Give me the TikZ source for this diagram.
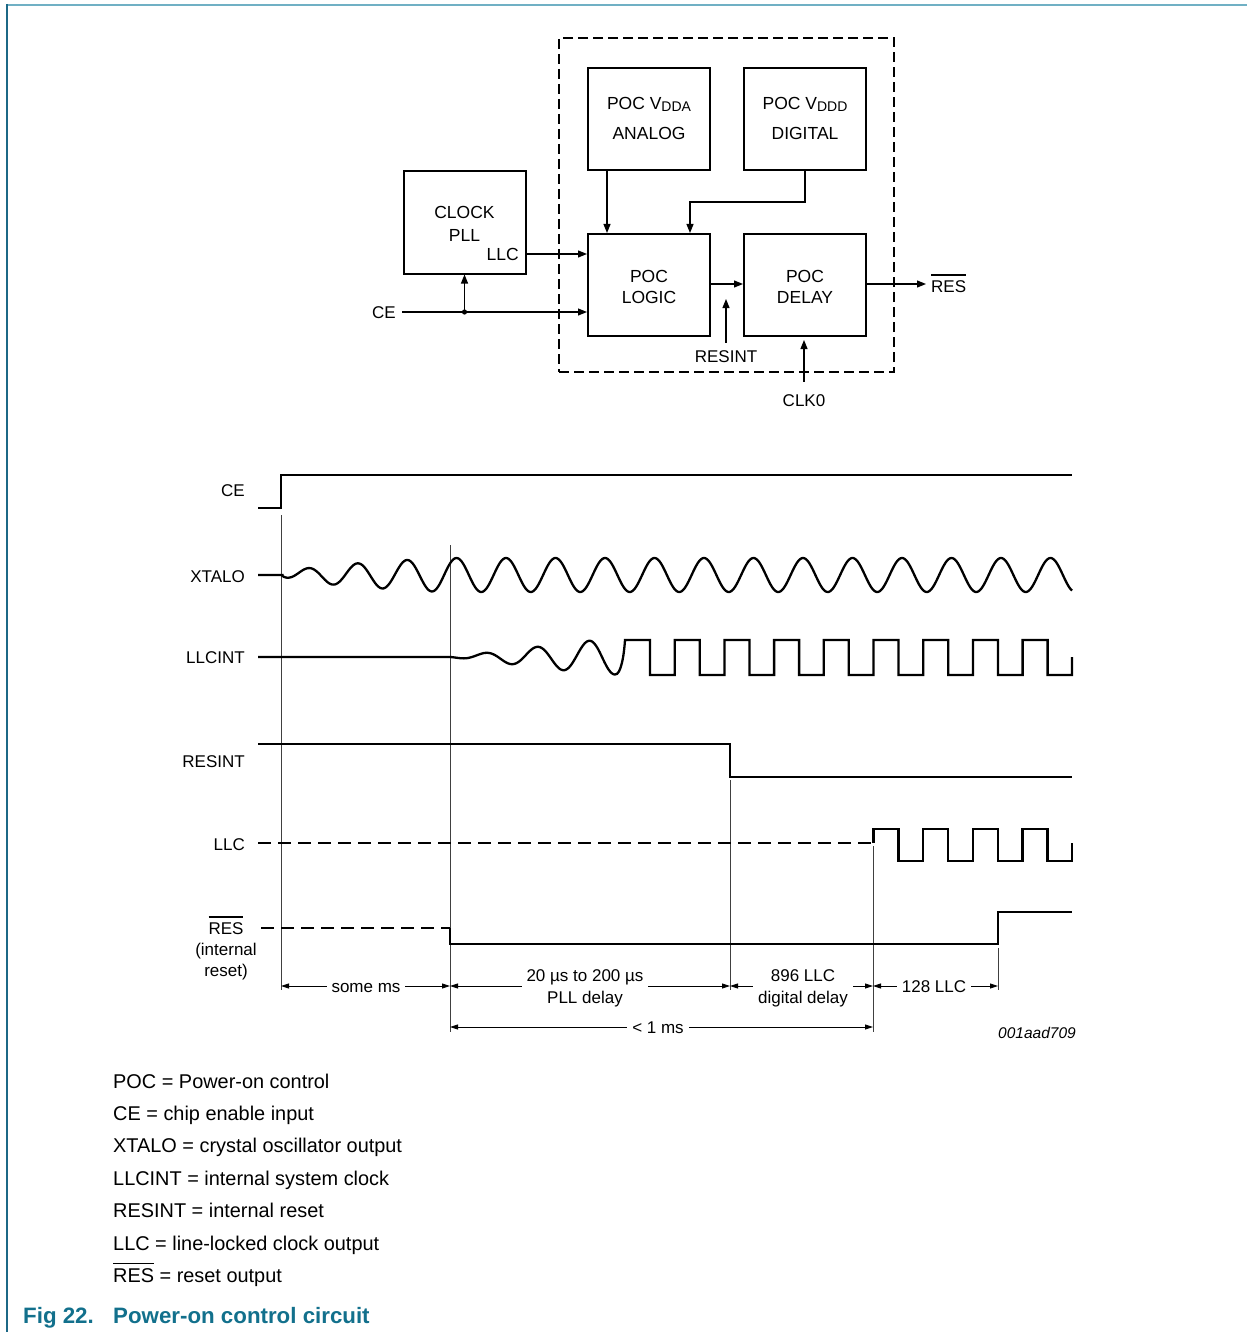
\documentclass[tikz,border=0pt]{standalone}
\usepackage{fontspec}
\setmainfont{Liberation Sans}
\usetikzlibrary{arrows.meta}
\definecolor{capteal}{RGB}{18,112,140}
\definecolor{toplinec}{RGB}{112,176,196}
\definecolor{leftlinec}{RGB}{28,104,134}
\newcommand{\fsz}[2]{\fontsize{#1}{#2}\selectfont}
\newcommand{\ovbar}[1]{\leavevmode\vbox{\hrule height 1.2pt\kern 4.5pt\hbox{#1}}}
\begin{document}
\begin{tikzpicture}[x=1pt,y=-1pt,
  blk/.style={draw, line width=2pt, minimum width=122pt, minimum height=102pt, inner sep=0pt},
  dashbox/.style={draw, line width=2.2pt, dash pattern=on 10pt off 5pt, minimum width=335pt, minimum height=334pt, inner sep=0pt},
  btxt/.style={font=\fsz{17.5}{21}, inner sep=0pt, anchor=base},
  lbl/.style={font=\fsz{17}{21}, inner sep=0pt, anchor=base},
  arr/.style={line width=1.1pt, -{Triangle[length=9pt,width=7pt]}},
  wave/.style={line width=2.3pt, line join=miter},
  ddash/.style={dash pattern=on 13pt off 7pt},
  vline/.style={line width=0.9pt, black!75},
  dim/.style={line width=0.9pt, {Triangle[length=8pt,width=5pt]}-{Triangle[length=8pt,width=5pt]}},
  dimtxt/.style={font=\fsz{17}{22}, fill=white, inner xsep=5pt, inner ysep=1pt, align=center, anchor=base},
  leg/.style={font=\fsz{19.9}{22}, anchor=base west, inner sep=0pt},
  figcap/.style={font=\fsz{22.3}{24}\bfseries, text=capteal, anchor=base west, inner sep=0pt},
]
\useasboundingbox (0,0) rectangle (1247,1332);

% page frame lines
\draw[toplinec, line width=2pt] (7,5) -- (1247,5);
\draw[leftlinec, line width=1.6pt] (7,4) -- (7,1332);

% ---------- block diagram ----------
\node[dashbox] (pocarea) at (726.5,205) {};
\node[blk] (analog) at (649,119) {};
\node[btxt] (analogA) at (649,110) {POC V\raisebox{-2pt}{\fsz{14}{14}DDA}};
\node[btxt] (analogB) at (649,140) {ANALOG};
\node[blk] (digital) at (805,119) {};
\node[btxt] (digitalA) at (805,110) {POC V\raisebox{-2pt}{\fsz{14}{14}DDD}};
\node[btxt] (digitalB) at (805,140) {DIGITAL};
\node[blk] (logic) at (649,285) {};
\node[btxt] (logicA) at (649,282) {POC};
\node[btxt] (logicB) at (649,303) {LOGIC};
\node[blk] (delay) at (805,285) {};
\node[btxt] (delayA) at (805,282) {POC};
\node[btxt] (delayB) at (805,303) {DELAY};
\node[blk] (pll) at (464.5,222.5) {};
\node[btxt] (pllA) at (464.5,219) {CLOCK};
\node[btxt] (pllB) at (464.5,241) {PLL};
\node[btxt, anchor=base east] (pllC) at (519,260) {LLC};

\draw[arr] (pll.east |- 0,254) -- (logic.west |- 0,254);
\node[lbl, anchor=base east] (cein) at (396,318) {CE};
\coordinate (cedot) at (pll.south |- 0,312);
\draw[arr] (cein.east |- cedot) ++(6,0) -- (logic.west |- cedot);
\fill (cedot) circle (2.6);
\draw[arr] (cedot) -- (pll.south);
\draw[arr] ([xshift=-42pt]analog.south) -- ([xshift=-42pt]logic.north);
\draw[arr] (digital.south) -- ++(0,31) -| ([xshift=41pt]logic.north);
\draw[arr] (logic.east |- 0,284) -- (delay.west |- 0,284);
\node[lbl] (resintlbl) at (726,362) {RESINT};
\coordinate (resintend) at (726,299);
\draw[arr] ([yshift=7pt]resintlbl.north) -- (resintend);
\node[lbl] (clk) at (804,406) {CLK0};
\draw[arr] ([yshift=12pt]clk.north) -- ([xshift=-1pt,yshift=-3pt]delay.south);
\node[lbl, anchor=base west] (resout) at (931,292) {\ovbar{RES}};
\draw[arr, shorten >=5pt] (delay.east |- 0,284) -- (resout.west |- 0,284);

% ---------- timing labels ----------
\node[lbl, anchor=base east] (tce) at (245,496) {CE};
\node[lbl, anchor=base east] (txtalo) at (245,582) {XTALO};
\node[lbl, anchor=base east] (tllcint) at (245,663) {LLCINT};
\node[lbl, anchor=base east] (tresint) at (245,767) {RESINT};
\node[lbl, anchor=base east] (tllc) at (245,850) {LLC};
\node[lbl] (tres) at (226,934) {\ovbar{RES}};
\node[lbl] (tresb) at (226,955) {(internal};
\node[lbl] (tresc) at (226,976) {reset)};

% ---------- thin vertical reference lines ----------
\draw[vline] (281,515) -- (281,990);
\draw[vline] (450,545) -- (450,1032);
\draw[vline] (730,780) -- (730,990);
\draw[vline] (873,846) -- (873,1032);
\draw[vline] (998,948) -- (998,990);

% ---------- waveforms ----------
% CE
\draw[wave] (258,508) -- (281,508) -- (281,475) -- (1072,475);
% XTALO
\draw[wave] (258,575) -- (282.5,575) -- plot[domain=282.5:1072, samples=650]
  (\x, {575 - 17*sqrt(min(1,(\x-282)/160))*cos((\x-308)*7.2727)});
% LLCINT
\draw[wave] (258,657) -- (450.5,657) -- plot[domain=450.5:615, samples=160]
  (\x, {657 - 17.5*min(1,(\x-450)/150)*cos((\x-485)*6.9231)})
  .. controls (621,675) and (624,655) .. (625,640)
  \foreach \k in {0,...,7} { -- ({650+49.7*\k},640) -- ({650+49.7*\k},675) -- ({674.7+49.7*\k},675) -- ({674.7+49.7*\k},640) }
  -- (1047.6,640) -- (1047.6,675) -- (1072,675) -- (1072,657);
% RESINT
\draw[wave] (258,744) -- (730,744) -- (730,777) -- (1072,777);
% LLC
\draw[wave, ddash] (258,843) -- (873,843);
\draw[wave] (873.5,843) -- (873.5,829) -- (898.5,829) -- (898.5,861) -- (923.2,861) -- (923.2,829)
  -- (948.2,829) -- (948.2,861) -- (972.9,861) -- (972.9,829) -- (997.9,829) -- (997.9,861)
  -- (1022.6,861) -- (1022.6,829) -- (1047.6,829) -- (1047.6,861) -- (1072,861) -- (1072,843);
% RES (internal reset)
\draw[wave, ddash] (261,928) -- (450,928);
\draw[wave] (450,928) -- (450,944) -- (998,944) -- (998,912) -- (1072,912);

% ---------- dimension arrows ----------
\draw[dim] (281,986) -- (450,986);
\node[dimtxt] (dsome) at (366,992) {some ms};
\draw[dim] (450,986) -- (730,986);
\node[dimtxt] (dpll) at (585,1003) {20 µs to 200 µs\\PLL delay};
\draw[dim] (730,986) -- (873,986);
\node[dimtxt] (ddig) at (803,1003) {896 LLC\\digital delay};
\draw[dim] (873,986) -- (998,986);
\node[dimtxt] (d128) at (934,992) {128 LLC};
\draw[dim] (450,1027) -- (873,1027);
\node[dimtxt] (d1ms) at (658,1033) {< 1 ms};

\node[lbl, anchor=base east, font=\fsz{15.5}{20}\itshape] (code) at (1076,1038) {001aad709};

% ---------- legend ----------
\node[leg] (l1) at (113,1088) {POC = Power-on control};
\node[leg] (l2) at (113,1120.4) {CE = chip enable input};
\node[leg] (l3) at (113,1152.8) {XTALO = crystal oscillator output};
\node[leg] (l4) at (113,1185.2) {LLCINT = internal system clock};
\node[leg] (l5) at (113,1217.6) {RESINT = internal reset};
\node[leg] (l6) at (113,1250) {LLC = line-locked clock output};
\node[leg] (l7) at (113,1282.4) {\ovbar{RES} = reset output};

% ---------- caption ----------
\node[figcap] (figno) at (23,1323) {Fig 22.};
\node[figcap] (figtitle) at (113,1323) {Power-on control circuit};
\end{tikzpicture}
\end{document}
